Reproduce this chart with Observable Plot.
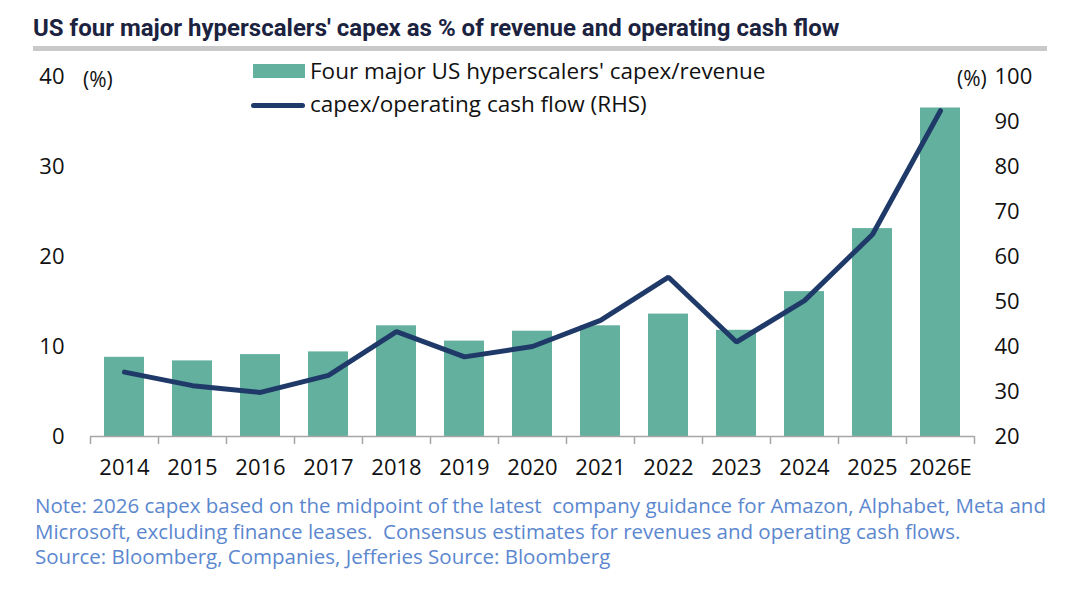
<!DOCTYPE html>
<html>
<head>
<meta charset="utf-8">
<script src="https://cdn.jsdelivr.net/npm/d3@7"></script>
<script src="https://cdn.jsdelivr.net/npm/@observablehq/plot@0.6"></script>
<style>
  html, body { margin: 0; padding: 0; background: #fff; }
  #page { position: relative; width: 1070px; height: 602px; overflow: hidden; font-family: "Open Sans", sans-serif; }
  #title { position: absolute; left: 33px; top: 15px; font-family: Roboto, sans-serif; font-weight: 700; font-size: 24px; line-height: 1.1; color: #1c2340; white-space: nowrap; }
  #rule { position: absolute; left: 33px; top: 46px; width: 1014px; height: 5px; background: #c9c9c9; }
  #chart { position: absolute; left: 0; top: 55px; }
  .leg { position: absolute; font-size: 22.5px; color: #111; white-space: nowrap; line-height: 1; }
  .unit { position: absolute; font-size: 21px; color: #111; line-height: 1; }
  #note { position: absolute; left: 35px; top: 493px; font-size: 20.5px; line-height: 25.5px; color: #5b87cf; white-space: nowrap; }
</style>
</head>
<body>
<div id="page">
  <div id="title">US four major hyperscalers' capex as % of revenue and operating cash flow</div>
  <div id="rule"></div>
  <div id="chart"></div>
  <div style="position:absolute;left:253px;top:64px;width:52px;height:14px;background:#63b09f"></div>
  <div class="leg" style="left:310px;top:60px">Four major US hyperscalers' capex/revenue</div>
  <div style="position:absolute;left:251px;top:103px;width:54px;height:5px;border-radius:3px;background:#1f3a68"></div>
  <div class="leg" style="left:310px;top:93px">capex/operating cash flow (RHS)</div>
  <div class="unit" style="left:83px;top:69px">(%)</div>
  <div class="unit" style="left:957px;top:68px">(%)</div>
  <div id="note">Note: 2026 capex based on the midpoint of the latest&nbsp; company guidance for Amazon, Alphabet, Meta and<br>Microsoft, excluding finance leases.&nbsp; Consensus estimates for revenues and operating cash flows.<br>Source: Bloomberg, Companies, Jefferies Source: Bloomberg</div>
</div>
<script>
// ---- data ----
const years = ["2014","2015","2016","2017","2018","2019","2020","2021","2022","2023","2024","2025","2026E"];
const capexRevenue = [8.8, 8.4, 9.1, 9.4, 12.3, 10.6, 11.7, 12.3, 13.6, 11.8, 16.1, 23.1, 36.5];
const capexOCF = [34.3, 31.3, 29.8, 33.6, 43.3, 37.7, 40.0, 45.8, 55.4, 41.0, 50.2, 64.9, 92.4];
const leftTicks = [0, 10, 20, 30, 40];
const rightTicks = [20, 30, 40, 50, 60, 70, 80, 90, 100];

// right axis (20..100) mapped onto left scale (0..40)
const rMin = 20, rMax = 100, lMin = 0, lMax = 40;
const toLeft = v => lMin + (v - rMin) / (rMax - rMin) * (lMax - lMin);
const fromLeft = v => rMin + (v - lMin) / (lMax - lMin) * (rMax - rMin);

const rows = years.map((y, i) => ({year: y, bar: capexRevenue[i], line: toLeft(capexOCF[i])}));

const W = 1070, mL = 90, mR = 96;
const step = (W - mL - mR) / years.length;

const chart = Plot.plot({
  width: W,
  height: 440,
  marginLeft: mL,
  marginRight: mR,
  marginTop: 21,
  marginBottom: 59,
  style: {fontFamily: "Open Sans, sans-serif", fontSize: "22px", color: "#111", background: "transparent"},
  x: {domain: years, paddingInner: 0.41, paddingOuter: 0.205, label: null},
  y: {domain: [lMin, lMax], label: null},
  marks: [
    Plot.barY(rows, {x: "year", y: "bar", fill: "#63b09f"}),
    Plot.ruleY([0], {stroke: "#a6a6a6", strokeWidth: 1.5}),
    Plot.ruleX(years, {x: d => d, y1: 0, y2: -0.9, dx: -step / 2, stroke: "#a6a6a6", strokeWidth: 1.5}),
    Plot.ruleX([years[years.length - 1]], {x: d => d, y1: 0, y2: -0.9, dx: step / 2, stroke: "#a6a6a6", strokeWidth: 1.5}),
    Plot.line(rows, {x: "year", y: "line", stroke: "#1f3a68", strokeWidth: 5, strokeLinejoin: "miter", strokeLinecap: "round"}),
    Plot.axisX({tickSize: 0, tickPadding: 23, label: null, fontSize: 22}),
    Plot.axisY({anchor: "left", ticks: leftTicks, tickSize: 0, tickPadding: 26, label: null, fontSize: 22}),
    Plot.axisY({anchor: "right", ticks: rightTicks.map(toLeft), tickFormat: d => String(Math.round(fromLeft(d))), tickSize: 0, tickPadding: 20, label: null, fontSize: 22})
  ]
});
document.getElementById("chart").appendChild(chart);
</script>
</body>
</html>
